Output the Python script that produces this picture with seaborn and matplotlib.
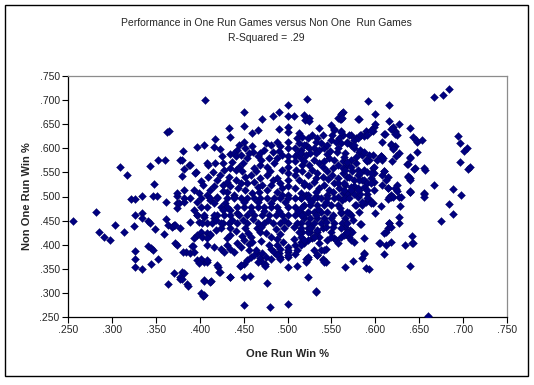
import matplotlib
matplotlib.use("Agg")
import matplotlib.pyplot as plt
import matplotlib.ticker as mticker
from matplotlib.patches import Rectangle
import seaborn as sns
import pandas as pd

title_line1 = "Performance in One Run Games versus Non One  Run Games"
title_line2 = "R-Squared = .29"
x_label = "One Run Win %"
y_label = "Non One Run Win %"
x_ticks = [0.25, 0.30, 0.35, 0.40, 0.45, 0.50, 0.55, 0.60, 0.65, 0.70, 0.75]
y_ticks = [0.25, 0.30, 0.35, 0.40, 0.45, 0.50, 0.55, 0.60, 0.65, 0.70, 0.75]

# (one-run win %, non-one-run win %) pairs
points_left = [
    (.309,.561),(.317,.544),(.363,.633),(.365,.635),(.343,.563),(.353,.576),(.360,.575),(.348,.525),
    (.334,.502),(.347,.502),(.351,.502),(.322,.495),(.326,.494),(.374,.502),(.378,.576),
    (.256,.449),(.282,.467),(.285,.426),(.291,.415),(.298,.409),(.303,.440),(.314,.426),(.326,.461),
    (.334,.465),(.334,.455),(.325,.438),(.341,.450),(.343,.444),(.349,.432),(.326,.386),(.326,.370),
    (.326,.353),(.334,.349),(.341,.397),(.344,.393),(.347,.389),(.345,.359),(.352,.370),(.359,.422),
    (.362,.489),(.362,.453),(.364,.440),(.369,.437),(.371,.440),(.364,.318),(.371,.341),(.372,.403),
    (.374,.399),(.374,.486),(.374,.476),(.377,.328),
]
points_top_mid = [
    (.406,.700),(.450,.675),(.471,.660),(.483,.667),(.490,.675),(.500,.690),(.522,.702),(.500,.667),
    (.507,.667),(.519,.669),(.522,.660),(.525,.662),(.562,.673),(.560,.660),(.433,.643),(.451,.646),
    (.434,.623),(.459,.632),(.466,.637),(.490,.641),(.500,.645),(.500,.634),(.513,.632),(.536,.643),
    (.549,.648),(.553,.641),(.417,.619),(.381,.594),(.397,.603),(.405,.607),(.416,.602),(.423,.598),
    (.425,.583),(.435,.588),(.442,.597),(.380,.576),(.382,.557),(.380,.542),(.388,.565),(.396,.550),
    (.401,.533),(.409,.566),(.417,.569),
    (.439,.590),(.451,.614),(.452,.600),(.460,.604),(.461,.593),(.441,.583),(.447,.586),(.454,.580),
    (.466,.583),(.469,.590),(.473,.597),(.475,.611),(.481,.607),(.488,.614),(.492,.604),
    (.501,.614),(.501,.600),(.501,.583),(.501,.573),(.501,.562),(.501,.548),(.501,.535),(.501,.521),
    (.501,.503),(.511,.621),(.513,.611),(.509,.600),(.515,.597),(.521,.607),(.508,.583),(.515,.580),
    (.509,.573),(.517,.566),(.479,.580),(.488,.580),(.485,.569),(.477,.562),(.469,.566),
    (.389,.566),(.395,.548),(.408,.569),(.409,.541),(.416,.521),(.420,.535),(.423,.545),(.426,.524),
    (.435,.559),(.441,.555),(.445,.562),(.448,.552),(.452,.541),(.458,.545),(.464,.552),
    (.433,.541),(.431,.531),(.441,.535),(.435,.521),(.447,.528),
    (.462,.531),(.469,.538),(.471,.524),(.477,.545),(.483,.535),(.488,.538),(.492,.528),
    (.382,.514),(.393,.514),(.399,.507),(.408,.503),(.420,.500),
    (.431,.510),(.439,.503),(.452,.514),(.460,.507),(.468,.510),(.477,.514),(.488,.510),(.494,.503),
    (.508,.545),(.513,.535),(.519,.524),(.509,.517),(.515,.507),(.521,.503),
    (.456,.590),(.470,.575),(.483,.593),(.494,.586),(.462,.560),(.480,.552),(.494,.556),(.454,.528),
    (.466,.520),(.481,.524),(.494,.517),(.444,.518),(.427,.512),(.412,.513),(.404,.523),(.415,.550),
    (.428,.556),(.437,.572),(.449,.570),(.426,.570),(.510,.556),(.512,.590),(.490,.595),(.445,.606),
]
points_top_right = [
    (.592,.699),(.616,.690),(.563,.675),(.557,.663),(.561,.661),(.581,.661),(.520,.659),(.525,.657),
    (.553,.638),(.561,.636),(.563,.628),(.559,.621),(.572,.628),(.578,.621),(.584,.628),(.589,.635),
    (.595,.638),(.599,.645),(.616,.656),(.620,.645),(.627,.650),(.622,.635),(.625,.628),(.639,.642),
    (.610,.629),(.608,.614),(.643,.624),(.648,.613),(.646,.618),(.618,.609),(.622,.604),(.620,.600),
    (.627,.590),(.624,.583),(.648,.592),(.639,.581),(.606,.583),(.608,.576),(.597,.586),(.593,.576),
    (.636,.567),(.645,.560),(.656,.559),(.619,.573),(.610,.552),(.608,.545),(.591,.573),(.597,.559),
    (.585,.535),(.595,.538),(.599,.530),(.637,.543),(.639,.538),(.624,.516),(.625,.524),(.639,.510),
    (.655,.507),(.614,.517),(.618,.503),
    (.517,.624),(.523,.621),(.528,.628),(.534,.621),(.532,.614),(.538,.611),(.519,.607),(.525,.600),
    (.530,.600),(.515,.590),(.521,.586),(.526,.590),(.536,.597),(.542,.600),(.545,.607),(.549,.618),
    (.551,.628),(.555,.614),(.561,.611),(.568,.614),(.572,.607),(.576,.600),(.582,.593),(.585,.586),
    (.519,.573),(.525,.566),(.530,.576),(.536,.569),(.542,.573),(.547,.580),(.553,.576),(.557,.566),
    (.563,.573),(.568,.566),(.572,.576),(.578,.569),
    (.517,.552),(.523,.545),(.528,.555),(.534,.548),(.540,.541),(.545,.552),(.551,.545),(.557,.538),
    (.563,.548),(.568,.541),(.574,.552),(.580,.545),
    (.519,.528),(.525,.521),(.530,.531),(.536,.517),(.542,.524),(.547,.514),(.553,.528),(.559,.517),
    (.565,.524),(.570,.510),(.576,.521),(.582,.514),
    (.523,.503),(.534,.500),(.545,.503),(.557,.500),(.568,.503),(.580,.500),
    (.533,.590),(.545,.588),(.556,.592),(.566,.590),(.540,.562),(.552,.560),(.563,.560),(.532,.538),
    (.546,.536),(.558,.528),(.532,.510),(.552,.510),(.563,.508),(.540,.627),(.558,.600),(.548,.595),
    (.684,.724),(.677,.711),(.667,.706),(.600,.671),(.580,.660),(.600,.650),(.618,.641),(.622,.634),
    (.623,.630),(.611,.630),(.597,.636),(.653,.617),(.618,.607),(.620,.598),(.639,.579),(.637,.567),
    (.644,.558),(.657,.556),(.694,.625),(.696,.610),(.701,.595),(.705,.600),(.697,.572),(.706,.558),
    (.708,.562),(.610,.553),(.614,.541),(.612,.534),(.606,.583),(.609,.579),(.602,.576),(.598,.562),
    (.599,.548),(.608,.524),(.614,.517),(.623,.517),(.625,.512),(.637,.541),(.639,.535),(.640,.511),
    (.656,.506),(.667,.523),(.688,.515),(.698,.503),(.618,.499),
    (.561,.672),(.562,.662),(.561,.634),(.570,.627),(.576,.617),(.580,.621),(.583,.627),(.587,.625),
    (.591,.627),(.595,.636),(.568,.610),(.576,.607),(.583,.596),(.587,.593),(.578,.582),(.593,.586),
    (.589,.576),(.564,.582),(.568,.572),(.566,.555),(.572,.562),(.580,.555),(.583,.548),(.587,.555),
    (.591,.551),(.595,.548),(.570,.541),(.576,.534),(.581,.534),(.587,.534),(.591,.527),(.572,.520),
    (.580,.517),(.587,.520),(.595,.527),(.564,.527),(.568,.506),(.576,.506),(.583,.506),(.591,.506),
    (.599,.513),
]
points_bottom_right = [
    (.656,.500),(.640,.510),(.684,.484),(.688,.463),(.675,.450),(.628,.480),(.606,.480),(.600,.465),
    (.616,.498),(.620,.500),(.614,.494),(.627,.498),(.627,.457),(.627,.446),(.616,.446),(.614,.434),
    (.612,.427),(.610,.425),(.618,.437),(.642,.418),(.642,.403),(.634,.399),(.618,.406),(.612,.399),
    (.604,.403),(.610,.380),(.639,.356),(.660,.252),(.587,.413),(.587,.382),(.585,.372),(.575,.366),
    (.565,.353),(.589,.351),(.593,.349),(.583,.442),(.576,.406),(.572,.410),(.570,.417),(.568,.425),
    (.571,.430),(.566,.437),(.562,.444),(.575,.451),(.572,.462),(.570,.466),(.581,.467),(.585,.482),
    (.589,.489),(.593,.494),(.597,.486),(.577,.482),(.562,.493),(.561,.465),(.564,.513),(.572,.513),
    (.580,.513),(.591,.513),(.561,.434),(.561,.417),
    (.523,.333),(.532,.302),(.587,.380),(.605,.403),(.643,.403),(.568,.420),(.565,.423),(.616,.444),
    (.629,.500),(.584,.442),(.565,.497),(.570,.497),(.578,.482),(.585,.489),(.591,.496),(.595,.486),
    (.523,.371),(.521,.365),(.530,.389),(.534,.378),(.540,.371),(.544,.365),(.538,.389),(.544,.392),
    (.528,.413),(.523,.410),(.519,.403),(.536,.416),(.545,.410),(.553,.413),(.523,.434),(.540,.434),
    (.544,.437),
    (.515,.496),(.523,.496),(.530,.496),(.538,.496),(.545,.496),(.553,.496),(.519,.482),(.526,.482),
    (.534,.482),(.542,.482),(.549,.482),(.557,.482),(.515,.468),(.523,.468),(.530,.468),(.538,.468),
    (.545,.468),(.561,.468),(.568,.468),(.519,.455),(.526,.455),(.534,.455),(.542,.455),(.549,.455),
    (.565,.455),(.515,.444),(.523,.444),(.530,.444),(.538,.444),(.553,.444),(.568,.444),(.517,.427),
    (.526,.427),(.534,.427),(.549,.427),(.570,.427),(.574,.427),(.515,.416),(.530,.416),
    (.527,.489),(.535,.475),(.544,.489),(.552,.461),(.560,.476),(.527,.436),(.544,.448),(.552,.436),
    (.519,.461),(.533,.462),
]
points_bottom_mid = [
    (.451,.274),(.480,.271),(.500,.278),(.533,.304),(.477,.320),(.401,.299),(.404,.293),(.380,.344),
    (.378,.332),(.380,.328),(.385,.318),(.387,.314),(.405,.327),(.413,.325),(.435,.332),(.450,.332),
    (.457,.336),(.446,.356),(.451,.360),(.474,.359),(.500,.354),(.511,.356),(.521,.370),(.523,.375),
    (.534,.379),(.540,.368),(.542,.365),(.421,.354),(.423,.344),(.397,.368),(.405,.365),(.408,.365),
    (.384,.385),(.389,.382),(.393,.385),(.381,.385),(.391,.397),(.408,.424),(.412,.420),(.397,.420),
    (.389,.448),(.370,.439),(.418,.431),(.431,.413),(.435,.420),(.443,.403),(.450,.410),(.456,.401),
    (.465,.434),(.469,.427),(.465,.382),(.469,.372),(.471,.365),(.454,.368),(.458,.375),(.462,.379),
    (.481,.392),(.485,.385),(.490,.382),(.492,.375),(.500,.396),(.500,.385),(.500,.375),(.509,.399),
    (.515,.406),(.519,.410),(.523,.427),(.526,.434),(.534,.431),(.530,.417),(.536,.403),(.542,.389),
    (.549,.417),(.555,.410),(.557,.403),(.564,.420),(.568,.427),
    (.374,.507),(.376,.486),(.382,.489),(.372,.441),(.393,.472),(.397,.462),(.399,.448),(.405,.458),
    (.408,.444),(.416,.455),(.420,.462),(.427,.444),(.435,.472),(.443,.465),(.429,.486),(.439,.500),
    (.412,.493),
    (.378,.434),(.392,.398),(.401,.427),(.412,.423),(.401,.371),(.408,.368),(.399,.361),(.420,.358),
    (.422,.344),(.435,.333),(.405,.324),(.412,.323),(.382,.342),(.405,.295),(.447,.358),(.466,.365),
    (.474,.356),(.448,.419),(.424,.434),(.435,.434),(.458,.416),(.460,.406),(.464,.389),(.471,.382),
    (.475,.375),(.488,.399),(.492,.392),(.488,.378),(.481,.371),(.492,.371),(.500,.389),(.500,.378),
    (.511,.389),(.515,.399),(.513,.427),(.515,.434),(.496,.434),(.492,.423),(.481,.416),(.408,.399),
    (.416,.396),(.424,.392),(.431,.399),(.435,.392),(.439,.385),(.428,.385),(.393,.413),(.403,.416),
    (.408,.413),
    (.382,.496),(.389,.496),(.401,.496),(.412,.496),(.420,.496),(.431,.496),(.439,.496),(.447,.496),
    (.454,.496),(.462,.496),(.469,.496),(.477,.496),(.485,.496),(.492,.496),(.500,.496),(.508,.496),
    (.515,.496),
    (.401,.479),(.408,.479),(.424,.479),(.431,.479),(.443,.479),(.450,.479),(.458,.479),(.466,.479),
    (.473,.479),(.481,.479),(.488,.479),(.500,.479),(.509,.479),(.517,.479),
    (.397,.461),(.405,.461),(.416,.461),(.428,.461),(.435,.461),(.445,.461),(.454,.461),(.462,.461),
    (.471,.461),(.479,.461),(.487,.461),(.494,.461),(.500,.461),(.508,.461),(.515,.461),
    (.403,.444),(.414,.444),(.424,.444),(.433,.444),(.443,.444),(.454,.444),(.466,.444),(.473,.444),
    (.483,.444),(.492,.444),(.500,.444),(.511,.444),
    (.397,.488),(.416,.487),(.427,.471),(.451,.489),(.466,.488),(.481,.487),(.497,.488),(.512,.470),
    (.458,.470),(.473,.469),(.490,.470),(.419,.452),(.437,.452),(.449,.452),(.461,.453),(.478,.452),
    (.496,.452),(.507,.436),(.487,.433),(.470,.436),(.452,.435),(.441,.428),(.455,.425),(.475,.424),
    (.488,.411),(.470,.408),(.507,.412),(.495,.405),(.479,.400),(.456,.388),(.447,.395),(.509,.380),
]

all_points = points_left + points_top_mid + points_top_right + points_bottom_right + points_bottom_mid
df = pd.DataFrame(all_points, columns=["one_run", "non_one_run"])

sns.set_style("white")
plt.rcParams["font.family"] = ["Liberation Sans", "DejaVu Sans"]

W, H = 534, 385
fig = plt.figure(figsize=(W / 100, H / 100), dpi=100)
fig.patch.set_facecolor("white")
ax = fig.add_axes([68 / W, 1 - 317 / H, (507 - 68) / W, (317 - 76) / H])

sns.scatterplot(data=df, x="one_run", y="non_one_run", ax=ax, marker="D", s=16,
                color="#000080", edgecolor="#000060", linewidth=0.3, legend=False, zorder=3)

ax.set_xlim(0.25, 0.75)
ax.set_ylim(0.25, 0.75)
ax.set_xticks(x_ticks)
ax.set_yticks(y_ticks)
fmt = mticker.FuncFormatter(lambda v, p: f"{v:.3f}"[1:])
ax.xaxis.set_major_formatter(fmt)
ax.yaxis.set_major_formatter(fmt)
ax.tick_params(axis="both", direction="out", length=4, width=0.8, color="black",
               labelsize=7.5, pad=2, bottom=True, left=True)
ax.grid(False)
for side in ["left", "bottom"]:
    ax.spines[side].set_color("black")
    ax.spines[side].set_linewidth(0.9)
for side in ["top", "right"]:
    ax.spines[side].set_color("#8c8c8c")
    ax.spines[side].set_linewidth(0.9)
ax.set_xlabel(x_label, fontsize=8, fontweight="bold", labelpad=10)
ax.set_ylabel(y_label, fontsize=8, fontweight="bold", labelpad=5)

fig.text(0.499, 1 - 23 / H, title_line1, ha="center", va="center", fontsize=7.5)
fig.text(0.499, 1 - 38 / H, title_line2, ha="center", va="center", fontsize=7.5)

fig.patches.append(Rectangle((5 / W, 1 - 376 / H), (528 - 5) / W, (376 - 5) / H,
                             transform=fig.transFigure, fill=False, edgecolor="black",
                             linewidth=1.0, zorder=10))

fig.savefig("out.png", dpi=100, facecolor="white")
